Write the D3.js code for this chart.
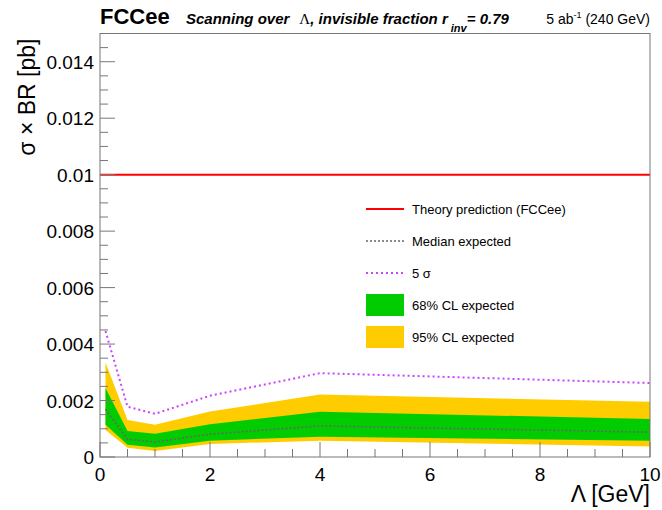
<!DOCTYPE html>
<html>
<head>
<meta charset="utf-8">
<script src="https://cdn.jsdelivr.net/npm/d3@7"></script>
<style>
  body { margin: 0; background: #fff; }
  text { font-family: "Liberation Sans", Arial, sans-serif; }
</style>
</head>
<body>
<svg width="662" height="510"></svg>
<script>
const W = 662, H = 510;

// Lambda points [GeV]
var lambda = [0.1, 0.5, 1, 2, 4, 10];
// limits [pb]
var median = [0.00169, 0.00063, 0.00053, 0.00081, 0.00110, 0.00088];
var g_lo = [0.00114, 0.00043, 0.00034, 0.00058, 0.00072, 0.00058];
var g_hi = [0.00244, 0.00092, 0.00082, 0.00116, 0.00160, 0.00135];
var y_lo = [0.00096, 0.00033, 0.00021, 0.00046, 0.00058, 0.00037];
var y_hi = [0.00335, 0.00131, 0.00114, 0.00161, 0.00221, 0.00196];
var sigma5 = [0.00446, 0.00178, 0.00153, 0.00217, 0.00297, 0.00262];
var theory = 0.01;

var xTicks = [0, 2, 4, 6, 8, 10];
var yTicks = [0, 0.002, 0.004, 0.006, 0.008, 0.01, 0.012, 0.014];

var svg = d3.select('svg');

const L = 100, R = 650, T = 33.5, B = 457;
var x = d3.scaleLinear().domain([0, 10]).range([L, R]);
var y = d3.scaleLinear().domain([0, 0.015]).range([B, T]);

var pts = lambda.map((d, i) => i);

// bands
svg.append('path')
  .datum(pts)
  .attr('fill', '#ffcc00')
  .attr('d', d3.area().x(i => x(lambda[i])).y0(i => y(y_lo[i])).y1(i => y(y_hi[i])));
svg.append('path')
  .datum(pts)
  .attr('fill', '#00cc00')
  .attr('d', d3.area().x(i => x(lambda[i])).y0(i => y(g_lo[i])).y1(i => y(g_hi[i])));

svg.append('path')
  .datum(pts)
  .attr('fill', 'none')
  .attr('stroke', '#666')
  .attr('stroke-width', 1.6)
  .attr('stroke-dasharray', '2,2')
  .attr('d', d3.line().x(i => x(lambda[i])).y(i => y(median[i])));

svg.append('path')
  .datum(pts)
  .attr('fill', 'none')
  .attr('stroke', '#cc44ff')
  .attr('stroke-width', 2)
  .attr('stroke-dasharray', '2,3')
  .attr('d', d3.line().x(i => x(lambda[i])).y(i => y(sigma5[i])));

svg.append('line')
  .attr('x1', x(0)).attr('x2', x(10))
  .attr('y1', y(theory)).attr('y2', y(theory))
  .attr('stroke', '#ff0000').attr('stroke-width', 2);

// frame
svg.append('rect')
  .attr('x', L).attr('y', T).attr('width', R - L).attr('height', B - T)
  .attr('fill', 'none').attr('stroke', '#777').attr('stroke-width', 1);

// ticks
var xMinor = d3.range(0, 10.01, 0.5);
svg.selectAll('.xt').data(xMinor).enter()
  .append('line')
  .attr('x1', d => x(d)).attr('x2', d => x(d))
  .attr('y1', B).attr('y2', d => B - (d % 2 === 0 ? 15 : 8))
  .attr('stroke', '#777');
var yMinor = d3.range(0, 0.01501, 0.0005);
svg.selectAll('.yt').data(yMinor).enter()
  .append('line')
  .attr('y1', d => y(d)).attr('y2', d => y(d))
  .attr('x1', L).attr('x2', (d, i) => L + (i % 4 === 0 ? 15 : 8))
  .attr('stroke', '#777');

svg.selectAll('.xl').data(xTicks).enter()
  .append('text')
  .attr('x', d => x(d)).attr('y', 481)
  .attr('text-anchor', 'middle')
  .attr('font-size', 19)
  .text(d => d);

svg.selectAll('.yl').data(yTicks).enter()
  .append('text')
  .attr('x', 94).attr('y', d => y(d) + 7)
  .attr('text-anchor', 'end')
  .attr('font-size', 19)
  .text(d => d === 0 ? '0' : d3.format('')(+d.toFixed(3)));

// axis titles
svg.append('text')
  .attr('transform', 'translate(35,' + (T + 5) + ') rotate(-90)')
  .attr('text-anchor', 'end')
  .attr('font-size', 23)
  .text('σ × BR [pb]');
svg.append('text')
  .attr('x', R).attr('y', 502)
  .attr('text-anchor', 'end')
  .attr('font-size', 23)
  .text('Λ [GeV]');

// header
svg.append('text').attr('x', 100).attr('y', 24)
  .attr('font-size', 22).attr('font-weight', 'bold').text('FCCee');
var hd = svg.append('text').attr('x', 186).attr('y', 24)
  .attr('font-size', 15).attr('font-weight', 'bold').attr('font-style', 'italic');
hd.append('tspan').text('Scanning over');
hd.append('tspan').attr('dx', 10).attr('font-family', '"Liberation Serif", serif')
  .attr('font-weight', 'normal').attr('font-style', 'normal').text('Λ');
hd.append('tspan').text(', invisible fraction r');
hd.append('tspan').attr('dy', 8).attr('dx', 3).attr('font-size', 11).text('inv');
hd.append('tspan').attr('dy', -8).text('= 0.79');
var lumi = svg.append('text').attr('x', R).attr('y', 24)
  .attr('text-anchor', 'end').attr('font-size', 14);
lumi.append('tspan').text('5 ab');
lumi.append('tspan').attr('dy', -6).attr('font-size', 9).text('-1');
lumi.append('tspan').attr('dy', 6).text(' (240 GeV)');

// legend
var legend = [
  {label: 'Theory prediction (FCCee)', kind: 'line', color: '#ff0000', dash: null, w: 2},
  {label: 'Median expected', kind: 'line', color: '#666', dash: '2,2', w: 1.6},
  {label: '5 σ', kind: 'line', color: '#cc44ff', dash: '2,3', w: 2},
  {label: '68% CL expected', kind: 'box', color: '#00cc00'},
  {label: '95% CL expected', kind: 'box', color: '#ffcc00'}
];
legend.forEach((d, i) => {
  var yy = 209 + i * 32;
  if (d.kind === 'line') {
    svg.append('line').attr('x1', 366).attr('x2', 404).attr('y1', yy).attr('y2', yy)
      .attr('stroke', d.color).attr('stroke-width', d.w)
      .attr('stroke-dasharray', d.dash);
  } else {
    svg.append('rect').attr('x', 366).attr('y', yy - 11).attr('width', 38).attr('height', 22)
      .attr('fill', d.color);
  }
  svg.append('text').attr('x', 412).attr('y', yy + 5)
    .attr('font-size', 13).text(d.label);
});
</script>
</body>
</html>
